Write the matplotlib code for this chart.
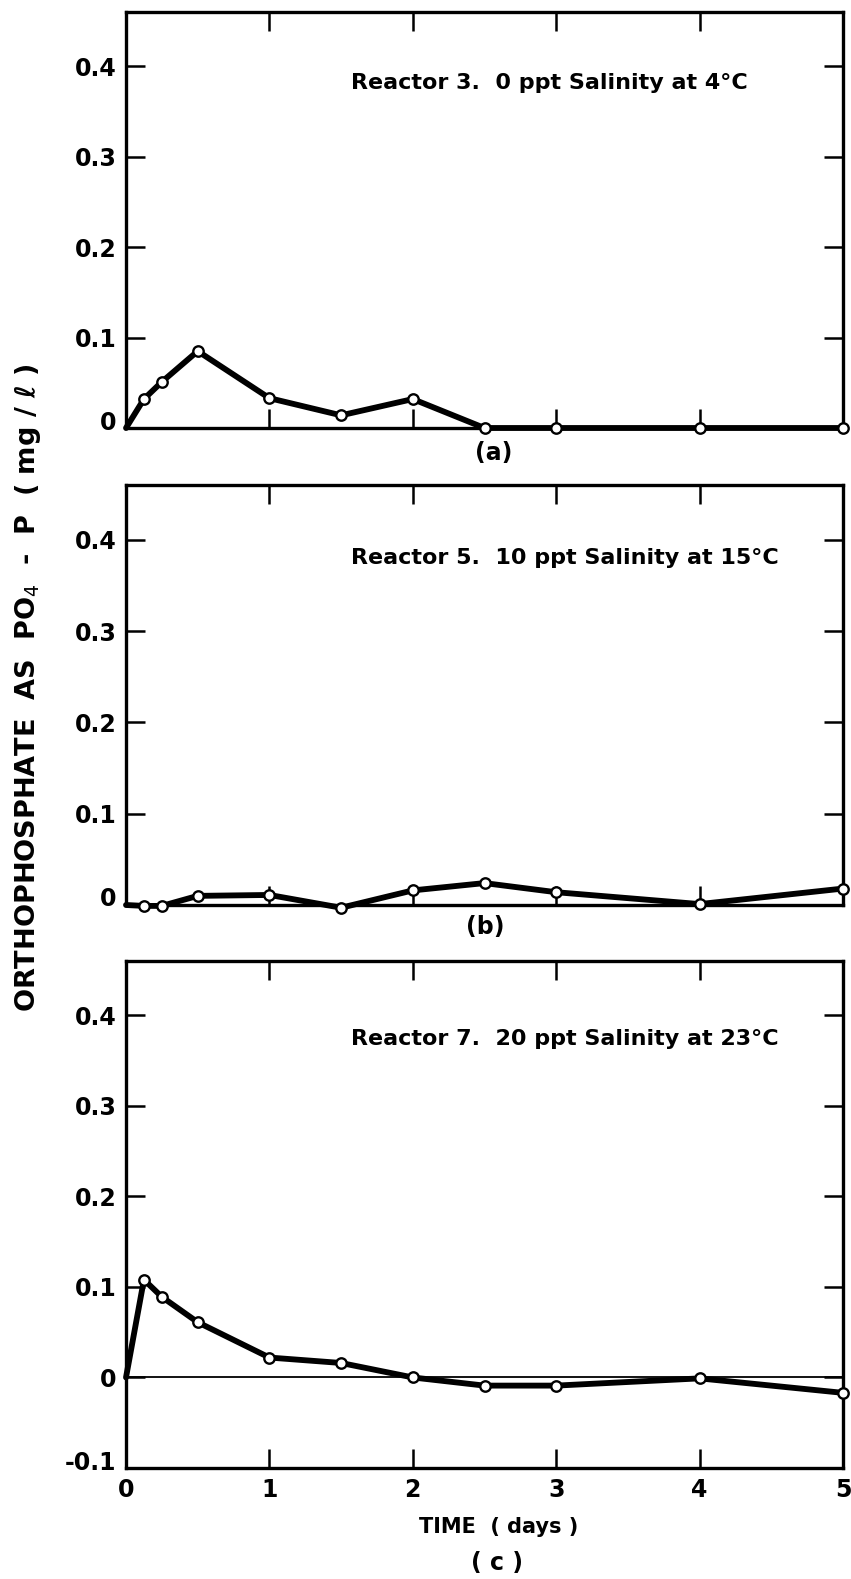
import matplotlib
matplotlib.use("Agg")
import matplotlib.pyplot as plt
from matplotlib.transforms import ScaledTranslation

# sampling times (days), same for all three reactors
time_days = [0, 0.125, 0.25, 0.5, 1, 1.5, 2, 2.5, 3, 4, 5]

# orthophosphate as PO4-P (mg/l)
reactor3 = [0, 0.032, 0.051, 0.085, 0.033, 0.014, 0.032, 0.0, 0.0, 0.0, 0.0]
reactor5 = [0, -0.001, -0.001, 0.010, 0.011, -0.003, 0.016, 0.024, 0.014, 0.001, 0.018]
reactor7 = [0, 0.108, 0.089, 0.061, 0.022, 0.016, 0.0, -0.009, -0.009, -0.001, -0.017]

titles = [
    "Reactor 3.  0 ppt Salinity at 4°C",
    "Reactor 5.  10 ppt Salinity at 15°C",
    "Reactor 7.  20 ppt Salinity at 23°C",
]
panel_tags = ["(a)", "(b)", "( c )"]
xticks = [0, 1, 2, 3, 4, 5]
yticks_ab = [0, 0.1, 0.2, 0.3, 0.4]
yticks_c = [-0.1, 0, 0.1, 0.2, 0.3, 0.4]

W, H = 851, 1579
DPI = 100

plt.rcParams["font.family"] = "DejaVu Sans"

fig = plt.figure(figsize=(W / DPI, H / DPI), dpi=DPI)


def px_axes(left, top, right, bottom):
    return fig.add_axes([left / W, 1 - bottom / H, (right - left) / W, (bottom - top) / H])


def tick_label(v):
    if v == 0:
        return "0"
    return "%.1f" % v


def draw_panel(ax, values, title, title_y, yticks, ymin, show_x):
    ax.plot(time_days, values, color="black", lw=4.2, solid_capstyle="round",
            solid_joinstyle="round", marker="o", ms=7.5, mfc="white",
            mec="black", mew=1.7, markevery=list(range(1, len(time_days))),
            clip_on=False, zorder=3)
    ax.set_xlim(0, 5)
    ax.set_ylim(ymin, 0.46)
    ax.set_xticks(xticks)
    ax.set_yticks(yticks)
    ax.set_yticklabels([tick_label(v) for v in yticks])
    if show_x:
        ax.set_xticklabels([str(v) for v in xticks])
    else:
        ax.set_xticklabels([])
    ax.tick_params(direction="in", length=13.5, width=1.8, top=True,
                   right=True, labelsize=17, pad=7)
    for lab in ax.get_xticklabels() + ax.get_yticklabels():
        lab.set_fontweight("bold")
    for s in ax.spines.values():
        s.set_linewidth(2.4)
    # the lowest y label sits a bit above the bottom spine in the original
    lab = ax.get_yticklabels()[0]
    lab.set_transform(lab.get_transform() + ScaledTranslation(0, 8 / DPI, fig.dpi_scale_trans))
    ax.text(1.57, title_y, title, fontsize=16, fontweight="bold",
            ha="left", va="center")


ax_a = px_axes(126, 12, 843, 428)
draw_panel(ax_a, reactor3, titles[0], 0.382, yticks_ab, 0, False)

ax_b = px_axes(126, 485, 843, 905)
draw_panel(ax_b, reactor5, titles[1], 0.380, yticks_ab, 0, False)

ax_c = px_axes(126, 961, 843, 1468)
ax_c.axhline(0, color="black", lw=1.3, zorder=2)
draw_panel(ax_c, reactor7, titles[2], 0.374, yticks_c, -0.1, True)

# panel tags and shared labels
fig.text(494 / W, 1 - 453 / H, panel_tags[0], fontsize=17, fontweight="bold",
         ha="center", va="center")
fig.text(485 / W, 1 - 927 / H, panel_tags[1], fontsize=17, fontweight="bold",
         ha="center", va="center")
fig.text(497 / W, 1 - 1563 / H, panel_tags[2], fontsize=17, fontweight="bold",
         ha="center", va="center")
fig.text(499 / W, 1 - 1527 / H, "TIME  ( days )", fontsize=15, fontweight="bold",
         ha="center", va="center")
fig.text(28 / W, 1 - 688 / H, "ORTHOPHOSPHATE  AS  PO$_4$  -  P  ( mg / ℓ )",
         fontsize=19.5, fontweight="bold", rotation=90, ha="center", va="center")

fig.savefig("out.png", dpi=DPI)
